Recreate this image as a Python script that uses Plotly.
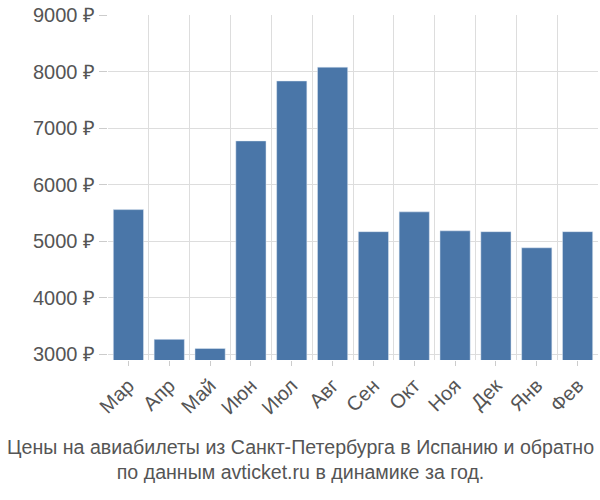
import plotly.graph_objects as go

months = ["Мар","Апр","Май","Июн","Июл","Авг","Сен","Окт","Ноя","Дек","Янв","Фев"]
prices = [5560, 3265, 3105, 6775, 7835, 8080, 5170, 5520, 5185, 5170, 4885, 5170]
yticks = [3000,4000,5000,6000,7000,8000,9000]
ylabels = [f"{v} ₽" for v in yticks]

fig = go.Figure()
fig.add_trace(go.Bar(x=list(range(len(months))), y=prices, marker_color="#4a76a8",
                     width=0.74, xaxis="x"))
fig.add_trace(go.Scatter(x=[-0.5, 11.5], y=[None, None], xaxis="x2", showlegend=False))
fig.update_layout(
    width=600, height=500, showlegend=False,
    plot_bgcolor="white", paper_bgcolor="white",
    margin=dict(l=108, r=2, t=15, b=140, autoexpand=False),
    font=dict(family="Liberation Sans, Arial", color="#555", size=20),
    xaxis=dict(range=[-0.5, 11.5], tickvals=list(range(12)), ticktext=months, automargin=False,
               tickangle=-45, showgrid=False, tickfont=dict(size=20, color="#555"),
               ticks="outside", ticklen=5, tickcolor="#ccc", zeroline=False),
    xaxis2=dict(range=[-0.5, 11.5], overlaying="x", tickvals=[i - 0.5 for i in range(13)], automargin=False,
                showgrid=True, gridcolor="#ddd", showticklabels=False, zeroline=False),
    yaxis=dict(range=[2900, 9002], tickvals=yticks, ticktext=ylabels, automargin=False,
               gridcolor="#ddd", ticks="outside", ticklen=8, tickcolor="#ccc",
               tickfont=dict(size=20, color="#555"), zeroline=False),
    annotations=[dict(text="Цены на авиабилеты из Санкт-Петербурга в Испанию и обратно<br>по данным avticket.ru в динамике за год.",
                      xref="paper", yref="paper", x=0.392, y=-0.215, xanchor="center", yanchor="top",
                      showarrow=False, font=dict(size=19.6, color="#555"))],
)
fig.data[1].update(yaxis="y")
fig.write_html("out.html", config={"displayModeBar": False},
               post_script="document.body.style.margin='0';")
